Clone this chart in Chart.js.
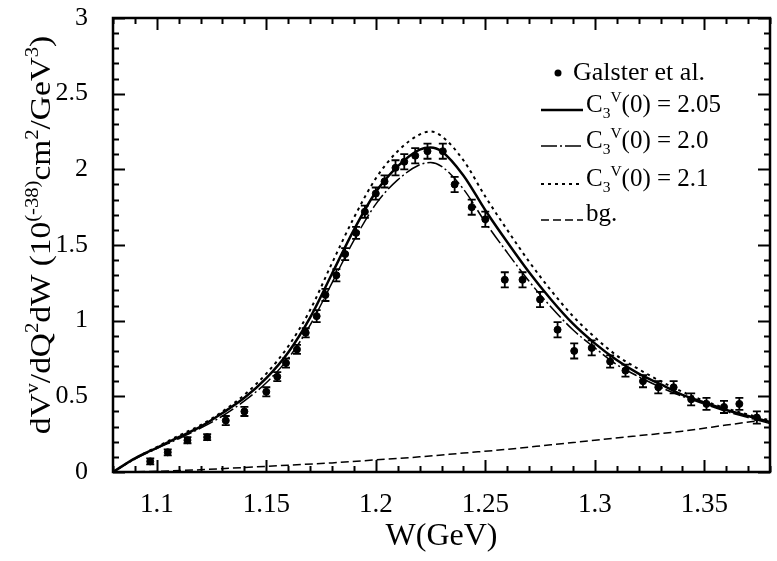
<!DOCTYPE html>
<html>
<head>
<meta charset="utf-8">
<script src="https://cdn.jsdelivr.net/npm/chart.js@4.4.1/dist/chart.umd.min.js"></script>
<style>
  html, body { margin: 0; padding: 0; background: #fff; }
</style>
</head>
<body>
<canvas id="chart" width="777" height="561"></canvas>
<script>
// W grid for the model curves (GeV)
const wGrid = [1.08, 1.09, 1.10, 1.11, 1.12, 1.13, 1.14, 1.15, 1.16, 1.17, 1.18, 1.19, 1.20, 1.21, 1.22, 1.225,
  1.23, 1.24, 1.25, 1.26, 1.27, 1.28, 1.29, 1.30, 1.31, 1.32, 1.33, 1.34, 1.35, 1.36, 1.37, 1.38]
const fit205 = [0, 0.09, 0.16, 0.23, 0.30, 0.39, 0.49, 0.62, 0.79, 1.02, 1.31, 1.60, 1.85, 2.02, 2.13, 2.145,
  2.12, 1.96, 1.73, 1.52, 1.32, 1.14, 0.98, 0.85, 0.74, 0.65, 0.58, 0.51, 0.46, 0.41, 0.37, 0.33]
const fit200 = [0, 0.085, 0.155, 0.22, 0.29, 0.37, 0.47, 0.59, 0.75, 0.97, 1.25, 1.53, 1.77, 1.93, 2.03, 2.045,
  2.02, 1.87, 1.65, 1.45, 1.26, 1.09, 0.94, 0.82, 0.71, 0.63, 0.56, 0.50, 0.45, 0.40, 0.36, 0.32]
const fit210 = [0, 0.09, 0.165, 0.24, 0.31, 0.40, 0.51, 0.65, 0.83, 1.07, 1.38, 1.68, 1.94, 2.12, 2.23, 2.25,
  2.22, 2.06, 1.82, 1.60, 1.39, 1.20, 1.03, 0.89, 0.77, 0.68, 0.60, 0.53, 0.47, 0.42, 0.38, 0.34]

// background
const bgW = [1.08, 1.10, 1.12, 1.14, 1.16, 1.18, 1.20, 1.22, 1.24, 1.26, 1.28, 1.30, 1.32, 1.34, 1.36, 1.38]
const bgVal = [0, 0.005, 0.015, 0.03, 0.045, 0.06, 0.08, 0.10, 0.125, 0.15, 0.18, 0.21, 0.24, 0.27, 0.31, 0.35]

// Galster et al. points
const galsterW = [1.097, 1.105, 1.114, 1.123, 1.1315, 1.140, 1.150, 1.155, 1.159, 1.164, 1.168, 1.173, 1.177,
  1.182, 1.186, 1.191, 1.195, 1.200, 1.204, 1.209, 1.213, 1.218, 1.2236, 1.2306, 1.236, 1.2438, 1.250,
  1.2589, 1.267, 1.275, 1.283, 1.2906, 1.2986, 1.307, 1.314, 1.322, 1.329, 1.336, 1.344, 1.351, 1.359,
  1.366, 1.374]
const galsterVal = [0.07, 0.13, 0.21, 0.23, 0.34, 0.40, 0.53, 0.63, 0.72, 0.81, 0.92, 1.03, 1.17,
  1.30, 1.44, 1.58, 1.72, 1.84, 1.92, 2.01, 2.05, 2.09, 2.12, 2.12, 1.90, 1.75, 1.67,
  1.27, 1.27, 1.14, 0.94, 0.80, 0.82, 0.73, 0.67, 0.60, 0.56, 0.56, 0.48, 0.45, 0.43,
  0.45, 0.36]
const galsterErr = [0.02, 0.02, 0.02, 0.02, 0.03, 0.03, 0.03, 0.03, 0.03, 0.03, 0.03, 0.04, 0.04,
  0.04, 0.04, 0.04, 0.04, 0.04, 0.04, 0.05, 0.05, 0.05, 0.05, 0.05, 0.05, 0.05, 0.05,
  0.05, 0.05, 0.05, 0.05, 0.05, 0.05, 0.04, 0.04, 0.04, 0.04, 0.04, 0.04, 0.04, 0.04,
  0.04, 0.04]

const xTicks = [1.1, 1.15, 1.2, 1.25, 1.3, 1.35]
const xTickLabels = ["1.1", "1.15", "1.2", "1.25", "1.3", "1.35"]
const yTicks = [0, 0.5, 1, 1.5, 2, 2.5, 3]
const yTickLabels = ["0", "0.5", "1", "1.5", "2", "2.5", "3"]

const serif = "'Liberation Serif', 'DejaVu Serif', serif"
const toXY = (xs, ys) => xs.map((x, i) => ({ x: x, y: ys[i] }))

// text with sub/superscripts, parts = [[text, 'n'|'sup'|'sub'], ...]
function richWidth(ctx, parts, size) {
  let w = 0
  for (const [t, k] of parts) {
    ctx.font = (k === "n" ? size : size * 0.62) + "px " + serif
    w += ctx.measureText(t).width
  }
  return w
}
function drawRich(ctx, parts, x, y, size) {
  let cx = x
  for (const [t, k] of parts) {
    const s = k === "n" ? size : size * 0.62
    ctx.font = s + "px " + serif
    const dy = k === "sup" ? -size * 0.4 : k === "sub" ? size * 0.25 : 0
    ctx.fillText(t, cx, y + dy)
    cx += ctx.measureText(t).width
  }
}

const frameTicks = {
  id: "frameTicks",
  afterDatasetsDraw(chart) {
    const { ctx, chartArea: a, scales: { x, y } } = chart
    ctx.save()
    ctx.strokeStyle = "#000"
    ctx.lineWidth = 2
    ctx.beginPath()
    for (let k = 108; k <= 138; k++) {
      const px = Math.round(x.getPixelForValue(k / 100)) + 0.5
      const len = k % 5 === 0 ? 12 : 6
      ctx.moveTo(px, a.bottom); ctx.lineTo(px, a.bottom - len)
      ctx.moveTo(px, a.top); ctx.lineTo(px, a.top + len)
    }
    for (let k = 0; k <= 30; k++) {
      const py = Math.round(y.getPixelForValue(k / 10)) + 0.5
      const len = k % 5 === 0 ? 12 : 6
      ctx.moveTo(a.left, py); ctx.lineTo(a.left + len, py)
      ctx.moveTo(a.right, py); ctx.lineTo(a.right - len, py)
    }
    ctx.stroke()
    ctx.lineWidth = 2.5
    ctx.strokeRect(a.left, a.top, a.right - a.left, a.bottom - a.top)
    ctx.restore()
  }
}

const errorBars = {
  id: "errorBars",
  afterDatasetsDraw(chart) {
    const { ctx, scales: { x, y } } = chart
    ctx.save()
    ctx.strokeStyle = "#000"
    ctx.lineWidth = 1.8
    ctx.beginPath()
    galsterW.forEach((w, i) => {
      const px = x.getPixelForValue(w)
      const lo = y.getPixelForValue(galsterVal[i] - galsterErr[i])
      const hi = y.getPixelForValue(galsterVal[i] + galsterErr[i])
      ctx.moveTo(px, lo); ctx.lineTo(px, hi)
      ctx.moveTo(px - 4, lo); ctx.lineTo(px + 4, lo)
      ctx.moveTo(px - 4, hi); ctx.lineTo(px + 4, hi)
    })
    ctx.stroke()
    ctx.restore()
  }
}

const yTitleParts = [["dV", "n"], ["v", "sup"], ["/dQ", "n"], ["2", "sup"], ["dW (10", "n"], ["(-38)", "sup"],
  ["cm", "n"], ["2", "sup"], ["/GeV", "n"], ["3", "sup"], [")", "n"]]

const yTitle = {
  id: "yTitle",
  afterDraw(chart) {
    const ctx = chart.ctx
    const size = 29
    ctx.save()
    ctx.fillStyle = "#000"
    ctx.textBaseline = "alphabetic"
    const w = richWidth(ctx, yTitleParts, size)
    ctx.translate(50, 235)
    ctx.rotate(-Math.PI / 2)
    ctx.scale(1.15, 1)
    drawRich(ctx, yTitleParts, -w / 2, 0, size)
    ctx.restore()
  }
}

const legendRows = [
  { ds: 1, parts: [["C", "n"], ["3", "sub"], ["V", "sup"], ["(0) = 2.05", "n"]], base: 112, line: 110 },
  { ds: 2, parts: [["C", "n"], ["3", "sub"], ["V", "sup"], ["(0) = 2.0", "n"]], base: 148, line: 146 },
  { ds: 3, parts: [["C", "n"], ["3", "sub"], ["V", "sup"], ["(0) = 2.1", "n"]], base: 186, line: 184 },
  { ds: 4, parts: [["bg.", "n"]], base: 221, line: 220 }
]

const legendBox = {
  id: "legendBox",
  afterDraw(chart) {
    const ctx = chart.ctx
    const size = 25
    ctx.save()
    ctx.fillStyle = "#000"
    ctx.strokeStyle = "#000"
    ctx.textBaseline = "alphabetic"
    ctx.beginPath()
    ctx.arc(558, 73, 3.5, 0, Math.PI * 2)
    ctx.fill()
    drawRich(ctx, [["Galster et al.", "n"]], 573, 80, 26)
    legendRows.forEach(r => {
      const ds = chart.data.datasets[r.ds]
      ctx.lineWidth = ds.borderWidth
      ctx.setLineDash(ds.borderDash || [])
      ctx.beginPath()
      ctx.moveTo(541, r.line); ctx.lineTo(583, r.line)
      ctx.stroke()
      ctx.setLineDash([])
      drawRich(ctx, r.parts, 586, r.base, size)
    })
    ctx.restore()
  }
}

const ctx = document.getElementById("chart").getContext("2d")
new Chart(ctx, {
  type: "scatter",
  data: {
    datasets: [
      {
        label: "Galster et al.",
        data: toXY(galsterW, galsterVal),
        pointRadius: 3.5,
        pointBackgroundColor: "#000",
        pointBorderColor: "#000",
        showLine: false,
        order: 0
      },
      {
        label: "C3V(0) = 2.05",
        data: toXY(wGrid, fit205),
        showLine: true,
        pointRadius: 0,
        borderColor: "#000",
        borderWidth: 2.5,
        cubicInterpolationMode: "monotone",
        order: 1
      },
      {
        label: "C3V(0) = 2.0",
        data: toXY(wGrid, fit200),
        showLine: true,
        pointRadius: 0,
        borderColor: "#000",
        borderWidth: 1.5,
        borderDash: [16, 3, 2, 3],
        cubicInterpolationMode: "monotone",
        order: 1
      },
      {
        label: "C3V(0) = 2.1",
        data: toXY(wGrid, fit210),
        showLine: true,
        pointRadius: 0,
        borderColor: "#000",
        borderWidth: 2,
        borderDash: [3, 4],
        cubicInterpolationMode: "monotone",
        order: 1
      },
      {
        label: "bg.",
        data: toXY(bgW, bgVal),
        showLine: true,
        pointRadius: 0,
        borderColor: "#000",
        borderWidth: 1.5,
        borderDash: [8, 4],
        cubicInterpolationMode: "monotone",
        order: 1
      }
    ]
  },
  options: {
    responsive: false,
    animation: false,
    devicePixelRatio: 1,
    layout: { padding: { top: 18, right: 7, left: 0, bottom: 0 } },
    plugins: { legend: { display: false }, tooltip: { enabled: false } },
    scales: {
      x: {
        type: "linear",
        min: 1.08,
        max: 1.38,
        afterBuildTicks: s => { s.ticks = xTicks.map(v => ({ value: v })) },
        afterFit: s => { s.height = 89; s.paddingLeft = 0; s.paddingRight = 0 },
        grid: { display: false },
        border: { display: false },
        ticks: {
          padding: 9,
          color: "#000",
          font: { family: serif, size: 27 },
          callback: (v, i) => xTickLabels[i]
        },
        title: {
          display: true,
          text: "W(GeV)",
          color: "#000",
          font: { family: serif, size: 32 },
          padding: { top: 0, bottom: 5 }
        }
      },
      y: {
        type: "linear",
        min: 0,
        max: 3,
        afterBuildTicks: s => { s.ticks = yTicks.map(v => ({ value: v })) },
        afterFit: s => { s.width = 113; s.paddingTop = 0; s.paddingBottom = 0 },
        grid: { display: false },
        border: { display: false },
        ticks: {
          padding: 17,
          color: "#000",
          font: { family: serif, size: 26 },
          callback: (v, i) => yTickLabels[i]
        }
      }
    }
  },
  plugins: [frameTicks, errorBars, yTitle, legendBox]
})
</script>
</body>
</html>
